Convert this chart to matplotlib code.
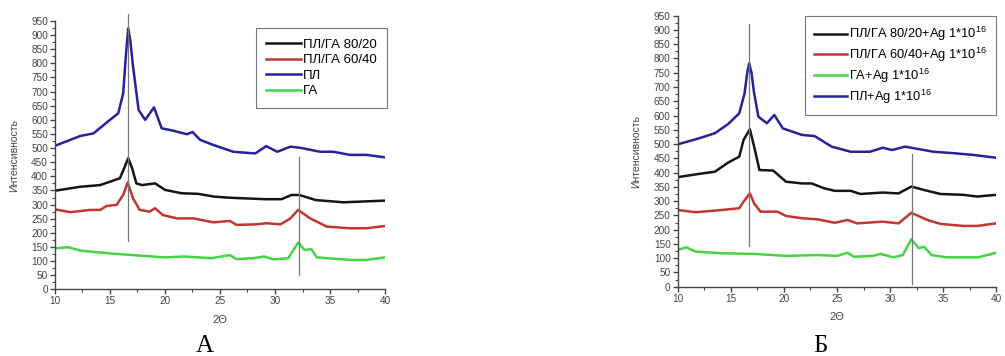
import numpy as np
import matplotlib
matplotlib.use('Agg')
import matplotlib.pyplot as plt
from matplotlib.ticker import MultipleLocator

plt.rcParams['font.family'] = ['Liberation Sans', 'DejaVu Sans']
plt.rcParams['mathtext.fontset'] = 'custom'
plt.rcParams['mathtext.rm'] = 'Liberation Sans'

'''            DATA: panel A          '''
a_pl_x = [10, 12.3, 13.5, 15, 15.75, 16.2, 16.45, 16.66, 16.85, 17.1, 17.6, 18.2, 19.0, 19.7,
          20.7, 22.0, 22.5, 23.2, 24.4, 26.2, 28.2, 29.2, 30.2, 31.4, 32.3, 34.1, 35.3,
          36.8, 38.3, 40]
a_pl_y = [508, 543, 552, 600, 623, 694, 830, 924, 880, 788, 635, 600, 644, 570,
          562, 549, 557, 529, 511, 487, 481, 507, 487, 505, 501, 487, 487,
          476, 476, 467]

a_8020_x = [10, 12.3, 14.1, 15, 15.9, 16.3, 16.66, 17.0, 17.4, 17.9, 19.1, 20, 21.5, 23,
            24.5, 26, 29.1, 30.6, 31.5, 32.2, 33.7, 36.2, 40]
a_8020_y = [349, 363, 369, 381, 393, 430, 464, 430, 375, 369, 375, 352, 340, 338,
            328, 324, 319, 319, 334, 334, 316, 308, 314]

a_6040_x = [10, 11.4, 13.2, 14.1, 14.7, 15.6, 16.2, 16.6, 17.1, 17.7, 18.6, 19.1, 19.8, 21.1,
            22.6, 24.4, 25.9, 26.5, 28.3, 29.2, 30.5, 31.4, 32.1, 33.2, 34.7, 36.8, 38.3, 40]
a_6040_y = [283, 273, 281, 281, 295, 299, 334, 378, 322, 281, 275, 287, 263, 251,
            251, 237, 242, 228, 230, 234, 230, 251, 281, 251, 222, 216, 216, 224]

a_ga_x = [10, 11.2, 12.3, 15, 17.1, 20, 21.8, 24.2, 25.9, 26.5, 28, 29, 29.9, 31.2,
          32.1, 32.7, 33.3, 33.8, 34.8, 36.8, 38.3, 40]
a_ga_y = [145, 149, 137, 127, 121, 113, 116, 110, 121, 107, 110, 116, 106, 110,
          165, 139, 142, 113, 110, 104, 104, 113]

'''            DATA: panel Б          '''
b_pl_x = [10, 12.0, 13.5, 14.75, 15.8, 16.3, 16.55, 16.73, 16.95, 17.2, 17.6, 18.4, 19.1, 19.9,
          21.7, 22.9, 24.5, 26.3, 28.1, 29.3, 30.2, 31.4, 32.3, 34.1, 36.0, 37.8, 40]
b_pl_y = [499, 520, 538, 570, 608, 678, 750, 783, 750, 678, 596, 573, 602, 555,
          532, 528, 491, 473, 473, 487, 479, 491, 485, 473, 468, 462, 452]

b_8020_x = [10, 12.3, 13.5, 14.75, 15.8, 16.2, 16.8, 17.2, 17.7, 19.0, 20.2, 21.7, 22.6, 23.8,
            24.8, 26.3, 27.2, 29.3, 30.8, 32.0, 33.2, 34.75, 36.9, 38.2, 40]
b_8020_y = [384, 397, 403, 435, 456, 514, 552, 491, 409, 407, 368, 362, 362, 345,
            336, 336, 325, 330, 327, 351, 339, 325, 322, 316, 322]

b_6040_x = [10, 11.7, 14.2, 15.8, 16.2, 16.8, 17.2, 17.8, 19.4, 20.2, 21.7, 23.2, 24.8, 26,
            26.9, 29.3, 30.8, 32, 33.5, 34.75, 36.9, 38.2, 40]
b_6040_y = [269, 261, 269, 275, 298, 327, 292, 263, 263, 248, 240, 236, 224, 234,
            222, 228, 222, 259, 234, 220, 213, 213, 222]

b_ga_x = [10, 10.8, 11.7, 14.2, 17.2, 20.2, 23.2, 25, 26, 26.6, 28.4, 29.1, 30.3, 31.2,
          32, 32.7, 33.2, 33.9, 35.3, 38.3, 40]
b_ga_y = [129, 138, 123, 117, 115, 108, 111, 108, 119, 105, 108, 115, 103, 111,
          166, 135, 140, 111, 103, 103, 119]

# vertical marker lines: (x, y from, y to)
a_vlines = [(16.66, 170, 975), (32.2, 50, 468)]
b_vlines = [(16.73, 143, 921), (32.1, 8, 464)]

a_labels = ['ПЛ/ГА 80/20', 'ПЛ/ГА 60/40', 'ПЛ', 'ГА']
b_labels = ['ПЛ/ГА 80/20+Ag 1*10$^{16}$', 'ПЛ/ГА 60/40+Ag 1*10$^{16}$',
            'ГА+Ag 1*10$^{16}$', 'ПЛ+Ag 1*10$^{16}$']

c_black = '#151515'
c_red = '#c23532'
c_blue = '#26229a'
c_green = '#45d445'

fig = plt.figure(figsize=(10.05, 3.56), dpi=100)
axA = fig.add_axes([0.0547, 0.1874, 0.3284, 0.7536])
axB = fig.add_axes([0.6743, 0.1947, 0.3170, 0.7612])


def style_axis(ax):
    ax.set_xlim(10, 40)
    ax.set_ylim(0, 950)
    ax.spines['top'].set_visible(False)
    ax.spines['right'].set_visible(False)
    for s in ['left', 'bottom']:
        ax.spines[s].set_color('#444444')
        ax.spines[s].set_linewidth(1.0)
    ax.xaxis.set_major_locator(MultipleLocator(5))
    ax.xaxis.set_minor_locator(MultipleLocator(2.5))
    ax.yaxis.set_major_locator(MultipleLocator(50))
    ax.yaxis.set_minor_locator(MultipleLocator(25))
    ax.tick_params(which='major', length=3.5, width=1, color='#444444',
                   labelsize=7.2, labelcolor='#444444', pad=1.5)
    ax.tick_params(which='minor', length=2, width=0.8, color='#444444')
    ax.set_xlabel('2Θ', fontsize=8, color='#444444', labelpad=6)
    ax.set_ylabel('Интенсивность', fontsize=7.5, color='#444444', labelpad=9)


lw = 1.8
axA.plot(a_8020_x, a_8020_y, color=c_black, lw=lw, label=a_labels[0])
axA.plot(a_6040_x, a_6040_y, color=c_red, lw=lw, label=a_labels[1])
axA.plot(a_pl_x, a_pl_y, color=c_blue, lw=lw, label=a_labels[2])
axA.plot(a_ga_x, a_ga_y, color=c_green, lw=lw, label=a_labels[3])
for xv, y0, y1 in a_vlines:
    axA.plot([xv, xv], [y0, y1], color='#777777', lw=0.9, clip_on=False)
style_axis(axA)
legA = axA.legend(loc='upper right', bbox_to_anchor=(1.006, 0.974), fontsize=9.5,
                  frameon=True, fancybox=False, edgecolor='#555555',
                  handlelength=2.6, labelspacing=0.25, borderpad=0.8,
                  handletextpad=0.15, borderaxespad=0)
legA.get_frame().set_linewidth(0.8)

axB.plot(b_8020_x, b_8020_y, color=c_black, lw=lw, label=b_labels[0])
axB.plot(b_6040_x, b_6040_y, color=c_red, lw=lw, label=b_labels[1])
axB.plot(b_ga_x, b_ga_y, color=c_green, lw=lw, label=b_labels[2])
axB.plot(b_pl_x, b_pl_y, color=c_blue, lw=lw, label=b_labels[3])
for xv, y0, y1 in b_vlines:
    axB.plot([xv, xv], [y0, y1], color='#777777', lw=0.9, clip_on=False)
style_axis(axB)
legB = axB.legend(loc='upper right', bbox_to_anchor=(1.0, 0.999), fontsize=9.3,
                  frameon=True, fancybox=False, edgecolor='#555555',
                  handlelength=2.6, labelspacing=0.2, borderpad=0.7,
                  handletextpad=0.15, borderaxespad=0)
legB.get_frame().set_linewidth(0.8)

fig.text(0.204, 0.028, 'А', fontsize=18, family='Liberation Serif', ha='center', va='center')
fig.text(0.816, 0.028, 'Б', fontsize=18, family='Liberation Serif', ha='center', va='center')

fig.savefig('out.png', dpi=100)
